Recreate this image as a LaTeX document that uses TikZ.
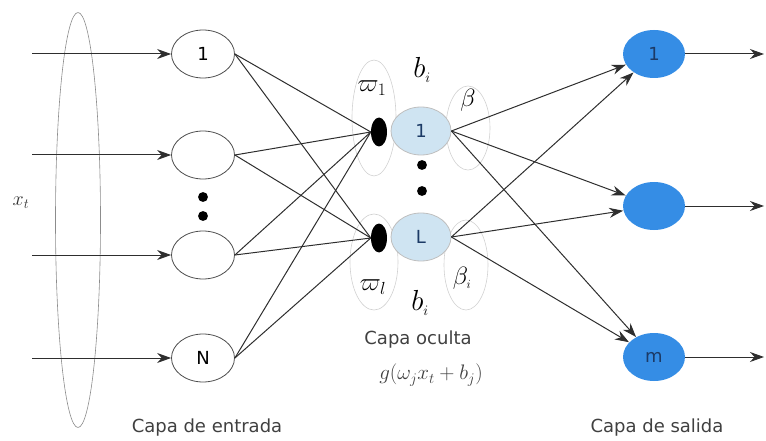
\RequirePackage{fix-cm}
\documentclass[tikz,border=0pt]{standalone}
\usepackage{fontspec}
\setsansfont{DejaVu Sans}
\usepackage{amsmath}
\usepackage{xcolor}
\definecolor{linemain}{HTML}{2E2E2E}
\definecolor{hiddenblue}{HTML}{CFE4F2}
\definecolor{outblue}{HTML}{358DE5}
\definecolor{outtext}{HTML}{1C3A66}
\usetikzlibrary{shapes.geometric, arrows.meta, positioning}

\begin{document}
\begin{tikzpicture}[
        x=1pt, y=-1pt,
        font=\sffamily,
        neuron/.style={
            ellipse,
            draw=linemain!85,
            line width=0.8pt,
            minimum width=63pt,
            minimum height=48pt,
            inner sep=0pt,
            font=\sffamily\fontsize{18}{18}\selectfont
        },
        hidden_neuron/.style={neuron, draw=black!25, fill=hiddenblue, minimum width=60pt, text=outtext},
        out_neuron/.style={neuron, draw=none, fill=outblue, minimum width=62pt, text=outtext},
        blob/.style={ellipse, fill=black, minimum width=16pt, minimum height=29pt, inner sep=0pt},
        feed/.style={draw=linemain, line width=1pt},
        arrow/.style={draw=linemain, line width=1pt, -{Stealth[length=14pt, width=10pt]}},
        faint/.style={draw=black!18, line width=0.6pt},
        mathlabel/.style={font=\fontsize{25}{27}\selectfont},
        caption/.style={font=\sffamily\fontsize{18}{20}\selectfont, text=black!75}
    ]
    \useasboundingbox (0,0) rectangle (766,441);

    % Faint guide curves round the hidden layer
    \draw[faint] (374,118) ellipse (22 and 58);
    \draw[faint] (468,128) ellipse (22 and 42);
    \draw[faint] (374,262) ellipse (24 and 48);
    \draw[faint] (466,265) ellipse (22 and 45);

    % Input vector
    \draw[draw=black!45, line width=0.6pt] (78,220) ellipse (22.5 and 207.5);
    \node[font=\fontsize{20}{20}\selectfont, text=black!80] (xt) at (21,203) {$x_t$};

    % Input layer
    \foreach \name/\y/\txt in {in1/54/1, in2/155/{}, in3/255/{}, inN/358/N} {
        \node[neuron] (\name) at (203,\y) {\txt};
        \coordinate (\name src) at (32,\y);
        \draw[arrow] (\name src) -- (\name);
    }
    \node[circle, fill=black, inner sep=3.5pt] (indot1) at (203,197) {};
    \node[circle, fill=black, inner sep=3.5pt] (indot2) at (203,216) {};

    % Hidden layer
    \node[hidden_neuron] (hid1) at (421,131) {1};
    \node[hidden_neuron] (hidL) at (421,237) {L};
    \node[blob] (blob1) at (379,132) {};
    \node[blob] (blobL) at (379,238) {};
    \node[circle, fill=black, inner sep=3.5pt] (hdot1) at (422,165) {};
    \node[circle, fill=black, inner sep=3.5pt] (hdot2) at (422,191) {};

    \foreach \src in {in1, in2, in3, inN} {
        \draw[feed] (\src.east) -- (blob1.west);
        \draw[feed] (\src.east) -- (blobL.west);
    }

    % Weights and biases
    \node[mathlabel] (w1) at (372,88) {$\varpi_1$};
    \node[mathlabel, font=\fontsize{29}{31}\selectfont] (b1) at (422,70) {$b_{\scriptscriptstyle i}$};
    \node[mathlabel] (beta1) at (468,100) {$\beta$};
    \node[mathlabel] (wl) at (373,287) {$\varpi_l$};
    \node[mathlabel, font=\fontsize{29}{31}\selectfont] (bl) at (420,303) {$b_{\scriptscriptstyle i}$};
    \node[mathlabel] (betal) at (462,278) {$\beta_{\scriptscriptstyle i}$};

    \node[caption] (hidcap) at (418,340) {Capa oculta};
    \node[font=\fontsize{21}{23}\selectfont, text=black!75] (gfun) at (431,375) {$g(\omega_j x_t + b_j)$};

    % Output layer
    \foreach \name/\y/\txt in {out1/54/1, out2/206/{}, outm/357/m} {
        \node[out_neuron] (\name) at (654,\y) {\txt};
        \coordinate (\name dst) at (764,\y);
        \draw[arrow] (\name.east) -- (\name dst);
    }
    \foreach \src in {hid1, hidL} {
        \foreach \dst in {out1, out2, outm} {
            \draw[arrow] (\src.east) -- (\dst);
        }
    }

    % Captions
    \node[caption] (incap) at (207,428) {Capa de entrada};
    \node[caption] (outcap) at (657,428) {Capa de salida};

\end{tikzpicture}
\end{document}
